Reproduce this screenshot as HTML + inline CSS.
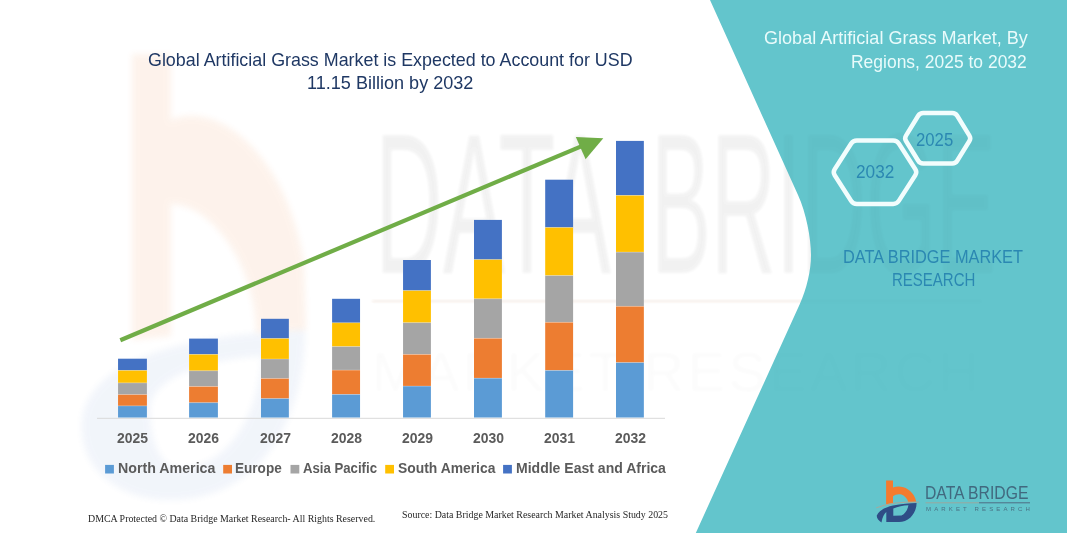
<!DOCTYPE html>
<html><head><meta charset="utf-8"><title>Global Artificial Grass Market</title>
<style>
html,body{margin:0;padding:0;background:#fff;}
body{width:1067px;height:533px;position:relative;overflow:hidden;font-family:"Liberation Sans",sans-serif;}
.t{position:absolute;white-space:pre;line-height:1;transform-origin:0 0;}
.s{font-family:"Liberation Sans",sans-serif;font-weight:normal;}
.sb{font-family:"Liberation Sans",sans-serif;font-weight:bold;}
.r{font-family:"Liberation Serif",serif;font-weight:normal;}
</style></head><body>
<svg width="1067" height="533" viewBox="0 0 1067 533" style="position:absolute;left:0;top:0">
<defs><filter id="bl" x="-20%" y="-20%" width="140%" height="140%"><feGaussianBlur stdDeviation="3"/></filter><filter id="bl2" x="-5%" y="-20%" width="110%" height="140%"><feGaussianBlur stdDeviation="1.6"/></filter>
<g id="wmt" fill="#000" font-family="Liberation Sans, sans-serif">
<text x="375" y="273" font-size="200" textLength="236" lengthAdjust="spacingAndGlyphs">DATA</text>
<text x="651" y="273" font-size="200" textLength="345" lengthAdjust="spacingAndGlyphs">BRIDGE</text>
<text x="372" y="391" font-size="56" textLength="607" lengthAdjust="spacing" opacity="0.35">MARKET RESEARCH</text>
<rect x="372" y="300" width="610" height="2.5" opacity="0.7"/>
</g></defs>
<g opacity="0.09" filter="url(#bl)">
<path d="M132,54 L171,54 L171,120 C215,100 285,150 304,262 L306,330 L256,333 C256,270 215,205 171,204 L171,336 L132,340 Z" fill="#ed7d31"/>
</g>
<g opacity="0.065" filter="url(#bl)">
<path fill-rule="evenodd" d="M82,420 C90,360 180,335 305,330 C305,420 260,500 170,500 C120,500 78,470 82,420 Z M150,410 C150,380 200,360 262,356 C258,420 225,468 180,468 C160,468 150,440 150,410 Z" fill="#4472c4"/>
</g>
<use href="#wmt" opacity="0.028" filter="url(#bl2)"/>
<rect x="372" y="300" width="440" height="2.5" fill="#ed7d31" opacity="0.07" filter="url(#bl2)"/>
<path d="M710,0 L798,195 C806.2,213 811,238 811,255 C811,270.5 806.8,288.5 799.6,304.5 L695.8,533 L1067,533 L1067,0 Z" fill="#63c5cc"/>
<use href="#wmt" opacity="0.018" filter="url(#bl2)"/>
<line x1="97" y1="418.29999999999995" x2="665" y2="418.29999999999995" stroke="#d9d9d9" stroke-width="1"/>
<rect x="118.05" y="358.7" width="28.85" height="11.7" fill="#4472c4"/>
<rect x="118.05" y="370.4" width="28.85" height="12.5" fill="#ffc000"/>
<rect x="118.05" y="382.9" width="28.85" height="11.7" fill="#a5a5a5"/>
<rect x="118.05" y="394.6" width="28.85" height="11.3" fill="#ed7d31"/>
<rect x="118.05" y="405.9" width="28.85" height="11.6" fill="#5b9bd5"/>
<rect x="118.05" y="370.0" width="28.85" height="0.8" fill="#fff" opacity="0.3"/>
<rect x="118.05" y="382.5" width="28.85" height="0.8" fill="#fff" opacity="0.3"/>
<rect x="118.05" y="394.2" width="28.85" height="0.8" fill="#fff" opacity="0.3"/>
<rect x="118.05" y="405.5" width="28.85" height="0.8" fill="#fff" opacity="0.3"/>
<rect x="189.1" y="338.6" width="28.80" height="15.8" fill="#4472c4"/>
<rect x="189.1" y="354.4" width="28.80" height="16.4" fill="#ffc000"/>
<rect x="189.1" y="370.8" width="28.80" height="15.7" fill="#a5a5a5"/>
<rect x="189.1" y="386.5" width="28.80" height="16.2" fill="#ed7d31"/>
<rect x="189.1" y="402.7" width="28.80" height="14.8" fill="#5b9bd5"/>
<rect x="189.1" y="354.0" width="28.80" height="0.8" fill="#fff" opacity="0.3"/>
<rect x="189.1" y="370.4" width="28.80" height="0.8" fill="#fff" opacity="0.3"/>
<rect x="189.1" y="386.1" width="28.80" height="0.8" fill="#fff" opacity="0.3"/>
<rect x="189.1" y="402.3" width="28.80" height="0.8" fill="#fff" opacity="0.3"/>
<rect x="261.0" y="318.8" width="27.85" height="19.7" fill="#4472c4"/>
<rect x="261.0" y="338.5" width="27.85" height="20.5" fill="#ffc000"/>
<rect x="261.0" y="359.0" width="27.85" height="19.5" fill="#a5a5a5"/>
<rect x="261.0" y="378.5" width="27.85" height="20.1" fill="#ed7d31"/>
<rect x="261.0" y="398.6" width="27.85" height="18.9" fill="#5b9bd5"/>
<rect x="261.0" y="338.1" width="27.85" height="0.8" fill="#fff" opacity="0.3"/>
<rect x="261.0" y="358.6" width="27.85" height="0.8" fill="#fff" opacity="0.3"/>
<rect x="261.0" y="378.1" width="27.85" height="0.8" fill="#fff" opacity="0.3"/>
<rect x="261.0" y="398.2" width="27.85" height="0.8" fill="#fff" opacity="0.3"/>
<rect x="332.1" y="298.8" width="27.95" height="24.0" fill="#4472c4"/>
<rect x="332.1" y="322.8" width="27.95" height="23.8" fill="#ffc000"/>
<rect x="332.1" y="346.6" width="27.95" height="23.5" fill="#a5a5a5"/>
<rect x="332.1" y="370.1" width="27.95" height="24.3" fill="#ed7d31"/>
<rect x="332.1" y="394.4" width="27.95" height="23.1" fill="#5b9bd5"/>
<rect x="332.1" y="322.4" width="27.95" height="0.8" fill="#fff" opacity="0.3"/>
<rect x="332.1" y="346.2" width="27.95" height="0.8" fill="#fff" opacity="0.3"/>
<rect x="332.1" y="369.7" width="27.95" height="0.8" fill="#fff" opacity="0.3"/>
<rect x="332.1" y="394.0" width="27.95" height="0.8" fill="#fff" opacity="0.3"/>
<rect x="403.05" y="260.0" width="27.85" height="30.6" fill="#4472c4"/>
<rect x="403.05" y="290.6" width="27.85" height="32.1" fill="#ffc000"/>
<rect x="403.05" y="322.7" width="27.85" height="31.7" fill="#a5a5a5"/>
<rect x="403.05" y="354.4" width="27.85" height="31.7" fill="#ed7d31"/>
<rect x="403.05" y="386.1" width="27.85" height="31.4" fill="#5b9bd5"/>
<rect x="403.05" y="290.2" width="27.85" height="0.8" fill="#fff" opacity="0.3"/>
<rect x="403.05" y="322.3" width="27.85" height="0.8" fill="#fff" opacity="0.3"/>
<rect x="403.05" y="354.0" width="27.85" height="0.8" fill="#fff" opacity="0.3"/>
<rect x="403.05" y="385.7" width="27.85" height="0.8" fill="#fff" opacity="0.3"/>
<rect x="474.0" y="219.9" width="27.90" height="39.7" fill="#4472c4"/>
<rect x="474.0" y="259.6" width="27.90" height="39.2" fill="#ffc000"/>
<rect x="474.0" y="298.8" width="27.90" height="39.5" fill="#a5a5a5"/>
<rect x="474.0" y="338.3" width="27.90" height="39.9" fill="#ed7d31"/>
<rect x="474.0" y="378.2" width="27.90" height="39.3" fill="#5b9bd5"/>
<rect x="474.0" y="259.2" width="27.90" height="0.8" fill="#fff" opacity="0.3"/>
<rect x="474.0" y="298.4" width="27.90" height="0.8" fill="#fff" opacity="0.3"/>
<rect x="474.0" y="337.9" width="27.90" height="0.8" fill="#fff" opacity="0.3"/>
<rect x="474.0" y="377.8" width="27.90" height="0.8" fill="#fff" opacity="0.3"/>
<rect x="545.2" y="179.7" width="27.90" height="47.8" fill="#4472c4"/>
<rect x="545.2" y="227.5" width="27.90" height="48.1" fill="#ffc000"/>
<rect x="545.2" y="275.6" width="27.90" height="46.7" fill="#a5a5a5"/>
<rect x="545.2" y="322.3" width="27.90" height="48.1" fill="#ed7d31"/>
<rect x="545.2" y="370.4" width="27.90" height="47.1" fill="#5b9bd5"/>
<rect x="545.2" y="227.1" width="27.90" height="0.8" fill="#fff" opacity="0.3"/>
<rect x="545.2" y="275.2" width="27.90" height="0.8" fill="#fff" opacity="0.3"/>
<rect x="545.2" y="321.9" width="27.90" height="0.8" fill="#fff" opacity="0.3"/>
<rect x="545.2" y="370.0" width="27.90" height="0.8" fill="#fff" opacity="0.3"/>
<rect x="616.0" y="140.9" width="27.85" height="54.5" fill="#4472c4"/>
<rect x="616.0" y="195.4" width="27.85" height="56.7" fill="#ffc000"/>
<rect x="616.0" y="252.1" width="27.85" height="54.2" fill="#a5a5a5"/>
<rect x="616.0" y="306.3" width="27.85" height="56.3" fill="#ed7d31"/>
<rect x="616.0" y="362.6" width="27.85" height="54.9" fill="#5b9bd5"/>
<rect x="616.0" y="195.0" width="27.85" height="0.8" fill="#fff" opacity="0.3"/>
<rect x="616.0" y="251.7" width="27.85" height="0.8" fill="#fff" opacity="0.3"/>
<rect x="616.0" y="305.9" width="27.85" height="0.8" fill="#fff" opacity="0.3"/>
<rect x="616.0" y="362.2" width="27.85" height="0.8" fill="#fff" opacity="0.3"/>
<line x1="120.3" y1="340.2" x2="583" y2="145.6" stroke="#70ad47" stroke-width="4.2"/>
<polygon points="575.8,137.1 603.3,138.2 585.6,159.2" fill="#70ad47"/>
<rect x="105.1" y="464.9" width="8.8" height="8.6" fill="#5b9bd5"/>
<rect x="223.2" y="464.9" width="8.8" height="8.6" fill="#ed7d31"/>
<rect x="290.5" y="464.9" width="8.8" height="8.6" fill="#a5a5a5"/>
<rect x="385.2" y="464.9" width="8.8" height="8.6" fill="#ffc000"/>
<rect x="503.1" y="464.9" width="8.8" height="8.6" fill="#4472c4"/>
<path d="M834.7,175.2 Q832.7,172.2 834.7,169.2 L851.2,143.5 Q853.2,140.5 856.8,140.5 L893.2,140.5 Q896.8,140.5 898.8,143.5 L915.3,169.2 Q917.3,172.2 915.3,175.2 L898.8,200.9 Q896.8,203.9 893.2,203.9 L856.8,203.9 Q853.2,203.9 851.2,200.9 Z" fill="none" stroke="#f2fdfd" stroke-width="4.5" stroke-linejoin="round"/>
<path d="M906.0,141.0 Q904.3,138.3 906.0,135.6 L918.2,115.8 Q919.9,113.1 923.1,113.1 L952.3,113.1 Q955.5,113.1 957.2,115.8 L969.4,135.6 Q971.1,138.3 969.4,141.0 L957.2,160.8 Q955.5,163.5 952.3,163.5 L923.1,163.5 Q919.9,163.5 918.2,160.8 Z" fill="none" stroke="#f2fdfd" stroke-width="4.5" stroke-linejoin="round"/>
<g id="logo">
<path d="M886.1,480.4 L893,480.4 L893,487.6 C897,486 903,486 908,489.5 C913,493 915.5,497.5 916.2,501.8 L908.3,502.2 C907.5,499 905,496 901.5,494.6 C898.5,493.6 895,494.6 893,496.2 L893,503.1 L886.1,504.3 Z" fill="#f47b2e"/>
<path d="M876.3,507.8 Q893,501.2 919.1,502.1" fill="none" stroke="#a9a89a" stroke-width="1"/>
<path fill-rule="evenodd" d="M876.8,515.5 C879,510.5 885,507.3 893,505.5 C901,504 910,503.3 916.6,503.1 C916.6,508 914.5,513.5 910.5,517.5 C907,520.5 903,522 899,522 L886.3,522 L886.3,512 C884.5,513.5 882.3,517 881.5,522.6 C878.5,520.5 876.5,518 876.8,515.5 Z M893.3,508.4 C898,506.6 903,505.6 908.4,505.3 C908,509 905.5,513.5 901.5,515.6 L893.3,515.8 Z" fill="#2f4d86"/>
<line x1="925.6" y1="502.8" x2="979" y2="502.8" stroke="#9aa79f" stroke-width="1"/>
<line x1="979" y1="502.8" x2="1030" y2="502.8" stroke="#4f6d83" stroke-width="1"/>
</g>
</svg>
<div class="t s" style="left:148.4px;top:51.04px;font-size:18.5px;color:#1f3864;transform:scaleX(0.9658);">Global Artificial Grass Market is Expected to Account for USD</div>
<div class="t s" style="left:307.3px;top:73.54px;font-size:18.5px;color:#1f3864;transform:scaleX(0.9765);">11.15 Billion by 2032</div>
<div class="t s" style="left:763.9px;top:28.94px;font-size:18.5px;color:#e9fbfb;transform:scaleX(0.9760);">Global Artificial Grass Market, By</div>
<div class="t s" style="left:851.2px;top:52.74px;font-size:18.5px;color:#e9fbfb;transform:scaleX(0.9442);">Regions, 2025 to 2032</div>
<div class="t s" style="left:842.6px;top:247.76px;font-size:18px;color:#2b88b2;transform:scaleX(0.9074);">DATA BRIDGE MARKET</div>
<div class="t s" style="left:892.2px;top:271.46px;font-size:18px;color:#2b88b2;transform:scaleX(0.8337);">RESEARCH</div>
<div class="t s" style="left:856.0px;top:163.16px;font-size:18px;color:#2b88b2;transform:scaleX(0.9564);">2032</div>
<div class="t s" style="left:915.6px;top:131.34px;font-size:18.5px;color:#2b88b2;transform:scaleX(0.9039);">2025</div>
<div class="t r" style="left:87.9px;top:514.11px;font-size:10.5px;color:#262626;transform:scaleX(0.9425);">DMCA Protected © Data Bridge Market Research- All Rights Reserved.</div>
<div class="t r" style="left:402.4px;top:510.01px;font-size:10.5px;color:#262626;transform:scaleX(0.9423);">Source: Data Bridge Market Research Market Analysis Study 2025</div>
<div class="t sb" style="left:117.6px;top:461.35px;font-size:14px;color:#5b5b5b;transform:scaleX(1.0151);">North America</div>
<div class="t sb" style="left:234.6px;top:461.35px;font-size:14px;color:#5b5b5b;transform:scaleX(0.9682);">Europe</div>
<div class="t sb" style="left:302.6px;top:461.35px;font-size:14px;color:#5b5b5b;transform:scaleX(0.9414);">Asia Pacific</div>
<div class="t sb" style="left:397.6px;top:461.35px;font-size:14px;color:#5b5b5b;transform:scaleX(0.9910);">South America</div>
<div class="t sb" style="left:515.5px;top:461.35px;font-size:14px;color:#5b5b5b;transform:scaleX(1.0018);">Middle East and Africa</div>
<div class="t s" style="left:924.6px;top:484.07px;font-size:18.7px;color:#41697f;transform:scaleX(0.8415);">DATA BRIDGE</div>
<div class="t s" style="left:925.6px;top:506.32px;font-size:6px;color:#4a7285;transform:scaleX(1.0056);letter-spacing:3.1px;">MARKET RESEARCH</div>
<div class="t sb" style="left:117.0px;top:431.45px;font-size:14px;color:#5b5b5b;transform:scaleX(0.9950);">2025</div>
<div class="t sb" style="left:188.0px;top:431.45px;font-size:14px;color:#5b5b5b;transform:scaleX(0.9950);">2026</div>
<div class="t sb" style="left:259.5px;top:431.45px;font-size:14px;color:#5b5b5b;transform:scaleX(0.9950);">2027</div>
<div class="t sb" style="left:330.5px;top:431.45px;font-size:14px;color:#5b5b5b;transform:scaleX(0.9950);">2028</div>
<div class="t sb" style="left:401.5px;top:431.45px;font-size:14px;color:#5b5b5b;transform:scaleX(0.9950);">2029</div>
<div class="t sb" style="left:472.5px;top:431.45px;font-size:14px;color:#5b5b5b;transform:scaleX(0.9950);">2030</div>
<div class="t sb" style="left:543.5px;top:431.45px;font-size:14px;color:#5b5b5b;transform:scaleX(0.9950);">2031</div>
<div class="t sb" style="left:614.5px;top:431.45px;font-size:14px;color:#5b5b5b;transform:scaleX(0.9950);">2032</div>
</body></html>
